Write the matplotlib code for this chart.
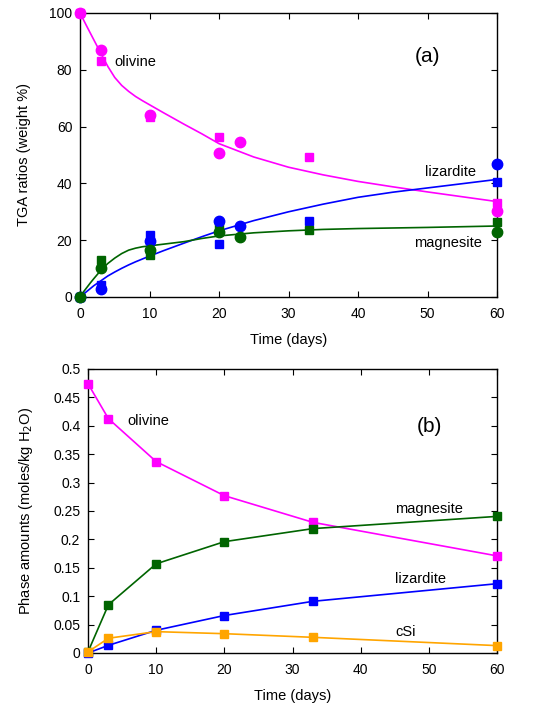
import matplotlib
matplotlib.use("Agg")
import matplotlib.pyplot as plt

plt.rcParams['font.family'] = ['Liberation Sans', 'DejaVu Sans']

# ---------------- Panel (a) data: TGA ratios (weight %) ----------------
# olivine
ol_sq_t = [0, 3, 10, 20, 33, 60]
ol_sq = [100, 83.2, 63.4, 56.2, 49.4, 33.1]
ol_ci_t = [0, 3, 10, 20, 23, 60]
ol_ci = [100, 87.1, 64.1, 50.6, 54.5, 30.4]
# lizardite
lz_sq_t = [0, 3, 10, 20, 33, 60]
lz_sq = [0, 4.3, 21.9, 18.7, 26.9, 40.6]
lz_ci_t = [0, 3, 10, 20, 23, 60]
lz_ci = [0, 2.8, 19.7, 26.8, 24.9, 46.8]
# magnesite
mg_sq_t = [0, 3, 10, 20, 33, 60]
mg_sq = [0, 13.1, 14.9, 24.5, 23.7, 26.5]
mg_ci_t = [0, 3, 10, 20, 23, 60]
mg_ci = [0, 10.1, 16.7, 22.8, 21.0, 22.9]

# fitted curves
ol_fit_t = [0, 1, 2, 3, 4, 5, 6, 7, 8, 9, 10, 11, 12, 15, 17.5, 20, 25, 30, 35, 40, 45, 50, 55, 60]
ol_fit = [100, 95.2, 90.5, 85.8, 81.2, 77.3, 74.5, 72.4, 70.6, 69.1, 67.7, 66.3, 64.9, 60.8, 57.5, 54.0, 49.3, 45.7, 43.0, 40.7, 38.8, 37.0, 35.3, 33.6]
lz_fit_t = [0, 1, 2, 3, 4, 5, 6, 7, 8, 10, 12, 15, 17.5, 20, 25, 30, 35, 40, 45, 50, 55, 60]
lz_fit = [0, 2.0, 4.0, 5.7, 7.4, 8.8, 10.1, 11.3, 12.4, 14.4, 16.3, 19.0, 21.2, 23.3, 26.9, 30.0, 32.7, 35.1, 36.9, 38.4, 39.9, 41.4]
mg_fit_t = [0, 0.5, 1, 1.5, 2, 3, 4, 5, 6, 7, 8, 9, 10, 12, 15, 17.5, 20, 25, 30, 35, 40, 50, 60]
mg_fit = [0, 1.8, 3.4, 5.0, 6.5, 9.4, 11.8, 13.7, 15.3, 16.5, 17.2, 17.7, 18.0, 18.6, 19.5, 20.6, 21.5, 22.6, 23.3, 23.8, 24.1, 24.5, 25.0]

# ---------------- Panel (b) data: phase amounts ----------------
t_b = [0, 3, 10, 20, 33, 60]
ol_b = [0.474, 0.4125, 0.337, 0.277, 0.230, 0.171]
mg_b = [0.002, 0.085, 0.157, 0.196, 0.219, 0.2405]
lz_b = [0.0, 0.0135, 0.040, 0.066, 0.091, 0.122]
csi_b = [0.002, 0.026, 0.0376, 0.034, 0.0276, 0.013]

MAG = '#ff00ff'
BLUE = '#0000ff'
GREEN = '#006400'
ORANGE = '#ffa500'

fig = plt.figure(figsize=(5.38, 7.08), dpi=100)

ax1 = fig.add_axes([80/538, 1-297/708, (497-80)/538, (297-13)/708])
ax2 = fig.add_axes([88/538, 1-653/708, (497-88)/538, (653-369)/708])

lw = 1.2
for t, y, c in [(ol_fit_t, ol_fit, MAG), (lz_fit_t, lz_fit, BLUE), (mg_fit_t, mg_fit, GREEN)]:
    ax1.plot(t, y, '-', color=c, lw=lw, zorder=2)
for t, y, c in [(ol_sq_t, ol_sq, MAG), (lz_sq_t, lz_sq, BLUE), (mg_sq_t, mg_sq, GREEN)]:
    ax1.plot(t, y, 's', color=c, ms=6, mec=c, clip_on=False, zorder=3)
for t, y, c in [(ol_ci_t, ol_ci, MAG), (lz_ci_t, lz_ci, BLUE), (mg_ci_t, mg_ci, GREEN)]:
    ax1.plot(t, y, 'o', color=c, ms=7.5, mec=c, clip_on=False, zorder=3)

ax1.set_xlim(0, 60)
ax1.set_ylim(0, 100)
ax1.set_xticks(range(0, 61, 10))
ax1.set_yticks(range(0, 101, 20))
ax1.set_xlabel('Time (days)', fontsize=10.5, labelpad=9)
ax1.set_ylabel('TGA ratios (weight %)', fontsize=10.5, labelpad=13)
ax1.text(5.0, 82.9, 'olivine', fontsize=10.5, va='center', ha='left')
ax1.text(49.6, 43.9, 'lizardite', fontsize=10.5, va='center', ha='left')
ax1.text(48.0, 19.0, 'magnesite', fontsize=10.5, va='center', ha='left')
ax1.text(48.2, 84.7, '(a)', fontsize=15, va='center', ha='left')

for t, y, c in [(t_b, ol_b, MAG), (t_b, mg_b, GREEN), (t_b, lz_b, BLUE), (t_b, csi_b, ORANGE)]:
    ax2.plot(t, y, '-s', color=c, lw=lw, ms=6, mec=c, clip_on=False, zorder=3)

ax2.set_xlim(0, 60)
ax2.set_ylim(0, 0.5)
ax2.set_xticks(range(0, 61, 10))
ax2.set_yticks([0, 0.05, 0.1, 0.15, 0.2, 0.25, 0.3, 0.35, 0.4, 0.45, 0.5])
ax2.set_yticklabels(['0', '0.05', '0.1', '0.15', '0.2', '0.25', '0.3', '0.35', '0.4', '0.45', '0.5'])
ax2.set_xlabel('Time (days)', fontsize=10.5, labelpad=9)
ax2.set_ylabel('Phase amounts (moles/kg H$_2$O)', fontsize=10.5, labelpad=13)
ax2.text(5.8, 0.409, 'olivine', fontsize=10.5, va='center', ha='left')
ax2.text(48.2, 0.399, '(b)', fontsize=15, va='center', ha='left')
ax2.text(45.1, 0.254, 'magnesite', fontsize=10.5, va='center', ha='left')
ax2.text(45.1, 0.130, 'lizardite', fontsize=10.5, va='center', ha='left')
ax2.text(45.1, 0.0376, 'cSi', fontsize=10.5, va='center', ha='left')

for ax in (ax1, ax2):
    ax.tick_params(direction='in', top=True, right=True, length=4, width=0.8,
                   labelsize=10)
    ax.tick_params(axis='x', pad=7)
    ax.tick_params(axis='y', pad=5.5)
    for s in ax.spines.values():
        s.set_linewidth(1.0)

fig.savefig('out.png', dpi=100)
